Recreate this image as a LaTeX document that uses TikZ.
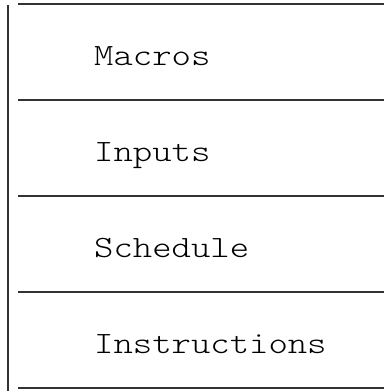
\documentclass[tikz,border=0pt]{standalone}
\usepackage{fontspec}
\newfontfamily\courierlike{lmmonolt10-regular}[Extension=.otf,FakeStretch=1.19]
\begin{document}
\begin{tikzpicture}[x=1pt,y=-1pt,
  rule/.style={draw=black!80,line width=1.3pt},
  label/.style={anchor=base west,inner sep=0pt,font=\courierlike\fontsize{31}{36}\selectfont,text=black}]
\useasboundingbox (0,0) rectangle (386,391);
\draw[rule] (8,5) -- (8,391);
\foreach \y in {4,100,196,292,388} {\draw[rule] (18,\y) -- (384,\y);}
\node[label] (macros) at (94,65) {Macros};
\node[label] (inputs) at (94,161) {Inputs};
\node[label] (schedule) at (94,257) {Schedule};
\node[label] (instructions) at (94,353) {Instructions};
\end{tikzpicture}
\end{document}
